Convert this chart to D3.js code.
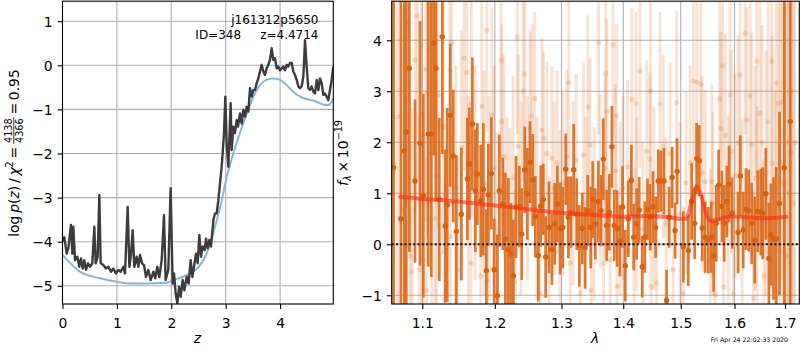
<!DOCTYPE html>
<html><head><meta charset="utf-8">
<script src="https://cdn.jsdelivr.net/npm/d3@7"></script>
<style>body{margin:0;background:#fff}svg{display:block}text{font-family:"DejaVu Sans",sans-serif;fill:#000}</style>
</head><body><svg id="c" width="800" height="350"></svg>
<script>
// ---------- Left panel: log p(z) ----------
const zPdf = [0.00,0.034,0.077,0.107,0.156,0.181,0.199,0.230,0.273,0.309,0.340,0.371,0.401,0.432,0.469,0.506,0.548,0.585,0.610,0.646,0.677,0.702,0.751,0.800,0.843,0.892,0.934,0.983,1.026,1.069,1.118,1.149,1.198,1.229,1.259,1.290,1.320,1.363,1.394,1.425,1.461,1.498,1.535,1.578,1.621,1.670,1.706,1.743,1.780,1.823,1.866,1.896,1.945,1.988,2.025,2.050,2.080,2.111,2.142,2.172,2.209,2.240,2.282,2.319,2.356,2.387,2.417,2.454,2.485,2.515,2.546,2.577,2.614,2.638,2.669,2.699,2.730,2.773,2.803,2.834,2.865,2.895,2.926,2.944,2.969,2.993,3.018,3.048,3.067,3.091,3.110,3.140,3.171,3.202,3.226,3.263,3.294,3.324,3.355,3.385,3.416,3.447,3.477,3.508,3.539,3.569,3.600,3.631,3.661,3.692,3.722,3.753,3.784,3.814,3.845,3.876,3.906,3.937,3.968,3.998,4.029,4.059,4.090,4.121,4.151,4.182,4.213,4.243,4.274,4.305,4.335,4.366,4.396,4.427,4.458,4.488,4.519,4.550,4.580,4.611,4.642,4.672,4.703,4.733,4.764,4.795,4.825,4.856,4.887,4.917,4.948,4.978];
const logPdf = [-4.00,-3.90,-4.27,-4.15,-3.62,-4.27,-3.66,-4.42,-4.34,-4.57,-4.38,-4.61,-4.42,-4.64,-4.49,-4.57,-4.49,-3.66,-4.49,-4.34,-2.94,-4.49,-4.53,-4.61,-4.57,-4.68,-4.61,-4.72,-4.64,-4.68,-4.57,-4.72,-3.21,-4.57,-4.30,-3.74,-4.57,-4.34,-4.57,-4.30,-4.49,-4.53,-4.80,-4.64,-4.87,-4.68,-4.83,-4.57,-4.80,-4.42,-3.40,-4.87,-4.64,-2.79,-4.95,-4.72,-5.17,-5.40,-5.02,-5.25,-4.87,-5.10,-4.80,-4.95,-4.42,-4.80,-4.57,-4.27,-4.49,-3.85,-4.34,-4.11,-4.19,-3.93,-4.15,-3.96,-4.11,-3.51,-3.36,-3.36,-3.06,-2.68,-2.30,-2.00,-1.54,-0.71,-1.77,-2.30,-1.69,-0.86,-1.92,-1.39,-1.54,-1.24,-1.39,-1.09,-1.32,-1.01,-1.16,-0.94,-1.05,-0.52,-0.71,-0.56,-0.56,-0.41,-0.30,-0.14,0.01,-0.14,-0.22,-0.07,0.01,0.12,0.39,0.12,0.16,-0.07,-0.03,-0.11,-0.07,-0.03,-0.11,0.01,-0.03,0.05,0.05,-0.14,-0.22,-0.33,-0.48,-0.52,-0.48,-0.26,0.57,-0.03,-0.52,-0.56,-0.48,-0.60,-0.64,-0.33,-0.56,-0.30,-0.41,-0.67,-0.64,-0.71,-0.79,-0.56,-0.33,-0.03];
const zPrior = [0.00,0.32,0.69,1.00,1.30,1.91,2.04,2.28,2.53,2.65,2.77,2.90,3.02,3.14,3.26,3.39,3.51,3.63,3.75,3.88,4.00,4.12,4.24,4.37,4.49,4.61,4.73,4.83,4.89,4.95,4.98];
const logPrior = [-4.30,-4.68,-4.83,-4.91,-4.95,-4.93,-4.87,-4.76,-4.53,-4.27,-3.81,-3.21,-2.53,-2.00,-1.54,-1.09,-0.71,-0.45,-0.33,-0.30,-0.33,-0.45,-0.60,-0.71,-0.77,-0.80,-0.86,-0.90,-0.90,-0.82,-0.75];
const zTicks = [0,1,2,3,4];
const logpTicks = [-5,-4,-3,-2,-1,0,1];

// ---------- Right panel: spectrum ----------
const specWave = [1.0627,1.0720,1.0765,1.0790,1.0830,1.0904,1.0970,1.1013,1.1079,1.1119,1.1151,1.1181,1.1226,1.1267,1.1307,1.1334,1.1375,1.1416,1.1458,1.1527,1.1611,1.1639,1.1681,1.1723,1.1751,1.1799,1.1836,1.1879,1.1907,1.1950,1.1990,1.2037,1.2066,1.2115,1.2153,1.2197,1.2236,1.2270,1.2309,1.2358,1.2394,1.2438,1.2478,1.2518,1.2559,1.2598,1.2643,1.2680,1.2719,1.2755,1.2806,1.2852,1.2894,1.2935,1.2977,1.3019,1.3066,1.3107,1.3149,1.3192,1.3240,1.3281,1.3329,1.3372,1.3415,1.3464,1.3496,1.3539,1.3588,1.3632,1.3669,1.3725,1.3767,1.3811,1.3849,1.3898,1.3943,1.3988,1.4035,1.4086,1.4136,1.4177,1.4227,1.4271,1.4322,1.4368,1.4414,1.4459,1.4509,1.4556,1.4601,1.4648,1.4700,1.4747,1.4793,1.4846,1.4899,1.4934,1.5047,1.5137,1.5198,1.5253,1.5289,1.5337,1.5391,1.5445,1.5505,1.5561,1.5605,1.5653,1.5698,1.5760,1.5803,1.5854,1.5897,1.5955,1.6070,1.6111,1.6169,1.6221,1.6274,1.6333,1.6393,1.6452,1.6512,1.6552,1.6613,1.6674,1.6714,1.6767,1.6822,1.6889,1.6985,1.7108];
const specFlux = [1.50,0.50,1.83,2.20,3.45,1.24,1.98,0.95,2.16,2.16,3.94,3.45,0.88,4.07,0.36,0.77,2.53,1.73,0.25,0.59,1.28,1.58,2.36,1.05,1.38,0.85,1.08,-0.52,0.97,1.39,-0.50,-1.01,1.05,0.79,0.10,-0.10,-0.19,-0.62,0.73,0.74,0.20,1.46,0.99,1.61,1.26,0.54,-0.22,0.75,0.88,-0.25,0.33,-0.10,0.40,0.79,0.31,0.33,1.47,0.53,0.63,1.46,0.59,-0.03,0.31,-0.07,0.66,0.33,0.88,0.40,0.84,0.66,1.67,0.37,0.63,1.91,0.37,0.31,0.07,0.73,-0.42,0.50,1.25,0.14,0.40,0.67,-0.44,0.14,0.69,0.53,0.73,0.33,1.24,1.24,1.24,-1.10,0.53,1.31,0.27,1.43,-0.05,-0.12,0.84,0.41,1.68,1.64,0.32,0.14,0.08,0.14,-0.23,0.41,1.16,0.74,0.41,0.84,1.18,0.61,0.23,1.34,0.28,0.69,0.66,0.41,0.08,0.65,0.63,0.61,0.99,-0.28,0.19,0.11,0.11,0.80,1.50,2.41];
const specErr = [6.0,5.0,3.5,4.0,3.6,1.6,2.4,2.0,2.6,2.8,2.2,2.6,1.6,2.3,1.5,1.9,1.4,1.3,1.5,1.3,1.2,1.1,1.3,1.2,1.0,1.1,1.3,1.2,1.0,1.1,1.0,1.2,1.1,0.9,1.3,1.4,1.0,1.1,1.0,0.8,0.9,0.85,0.9,0.8,0.9,0.8,0.9,0.8,0.7,0.8,0.9,0.7,0.8,0.75,0.9,0.8,0.7,0.8,0.7,0.9,0.7,0.8,0.7,0.8,0.7,0.8,0.75,0.7,0.8,0.7,0.8,0.7,0.75,0.8,0.7,0.75,0.7,0.8,0.7,0.75,0.7,0.65,0.7,0.65,0.6,0.7,0.6,0.65,0.7,0.6,0.62,0.6,0.65,0.6,0.6,0.6,0.55,0.65,0.7,0.7,0.75,0.7,0.7,0.7,0.65,0.7,0.65,0.7,0.7,0.75,0.7,0.7,0.75,0.7,0.75,0.7,0.8,0.8,0.75,0.8,0.8,0.8,0.85,0.8,0.85,0.9,0.9,1.1,1.0,1.2,1.4,1.8,6.0,6.0];

const fadedWave = [1.0620,1.0680,1.0750,1.0785,1.0815,1.0839,1.0860,1.0904,1.0934,1.0960,1.0992,1.1013,1.1049,1.1058,1.1066,1.1102,1.1124,1.1168,1.1190,1.1212,1.1279,1.1302,1.1368,1.1378,1.1396,1.1450,1.1480,1.1530,1.1566,1.1602,1.1624,1.1660,1.1666,1.1719,1.1799,1.1813,1.1845,1.1886,1.1890,1.1919,1.1958,1.1990,1.2032,1.2090,1.2100,1.2133,1.2177,1.2220,1.2265,1.2294,1.2328,1.2343,1.2382,1.2416,1.2441,1.2480,1.2518,1.2543,1.2588,1.2623,1.2668,1.2698,1.2723,1.2774,1.2809,1.2851,1.2886,1.2932,1.2977,1.3024,1.3084,1.3116,1.3136,1.3183,1.3230,1.3294,1.3347,1.3390,1.3418,1.3454,1.3470,1.3518,1.3590,1.3618,1.3673,1.3700,1.3708,1.3728,1.3783,1.3828,1.3866,1.3883,1.3894,1.3948,1.3997,1.4070,1.4144,1.4183,1.4217,1.4228,1.4284,1.4334,1.4400,1.4457,1.4466,1.4474,1.4526,1.4574,1.4632,1.4690,1.4738,1.4809,1.4862,1.4928,1.4988,1.5047,1.5096,1.5169,1.5228,1.5291,1.5365,1.5390,1.5446,1.5539,1.5571,1.5590,1.5633,1.5715,1.5742,1.5772,1.5791,1.5824,1.5880,1.5917,1.5937,1.5977,1.6010,1.6068,1.6108,1.6146,1.6204,1.6238,1.6302,1.6335,1.6367,1.6400,1.6433,1.6439,1.6498,1.6538,1.6578,1.6618,1.6658,1.6732,1.6738,1.6798,1.6818,1.6865,1.6900,1.6940,1.6980,1.7034,1.7060,1.7082,1.7110,1.7140,1.7170,1.7205];
const fadedFlux = [1.00,2.50,0.67,0.44,4.35,-0.24,-0.54,3.61,4.48,-0.50,2.14,-0.31,3.43,-0.90,2.96,3.82,1.80,0.51,1.33,2.93,2.31,-1.09,3.41,0.15,3.95,1.10,-0.50,1.90,3.65,3.37,0.60,-0.37,2.75,1.40,-0.62,2.71,1.20,4.20,-0.71,0.90,2.54,1.50,0.30,3.61,2.41,1.72,0.60,0.48,1.30,-0.73,4.06,1.92,0.90,3.01,3.34,1.10,2.27,2.52,2.86,0.70,-0.96,2.24,2.08,1.78,-0.37,1.69,1.10,1.60,0.55,1.20,1.72,3.17,-0.37,1.00,1.65,-0.95,1.75,0.80,2.69,1.95,-0.90,0.60,3.95,1.23,-0.37,1.49,3.35,2.61,-0.31,3.91,1.44,2.52,-0.83,0.70,1.10,1.52,2.84,-0.20,2.76,0.80,3.40,0.30,1.82,1.67,3.01,-0.83,0.90,-0.76,2.75,1.92,0.40,1.77,-0.50,2.78,0.60,-0.96,1.20,1.60,3.20,3.18,3.14,1.40,1.23,-0.31,1.23,0.80,-0.99,2.85,2.27,3.50,-0.83,2.14,0.62,2.93,1.82,-0.96,1.35,2.00,3.32,0.35,4.14,2.44,2.91,1.95,-1.06,1.30,3.59,0.50,2.57,2.00,-0.62,1.40,2.40,3.59,1.59,0.40,3.16,2.76,1.60,2.80,1.20,-0.23,2.00,1.00,1.80,3.00,0.80,2.00];
const fadedErr = [6.0,4.5,4.0,3.8,3.5,3.6,3.2,3.0,3.2,3.0,3.4,2.9,3.0,2.6,2.8,2.9,3.0,2.7,2.8,2.6,2.5,2.3,2.4,2.5,2.3,2.4,2.2,2.3,2.2,2.1,2.3,2.0,2.2,2.1,2.0,2.1,2.2,2.0,1.9,2.0,2.1,2.0,1.9,2.0,1.9,2.0,1.9,1.8,2.0,1.8,1.9,1.8,1.9,1.8,1.9,1.8,1.9,1.8,1.7,1.8,1.7,1.8,1.7,1.8,1.7,1.8,1.7,1.8,1.7,1.8,1.7,1.8,1.7,1.8,1.7,1.6,1.8,1.7,1.8,1.7,1.6,1.7,1.8,1.7,1.6,1.8,1.7,1.8,1.7,1.8,1.7,1.8,1.6,1.7,1.8,1.7,1.8,1.7,1.8,1.7,1.9,1.7,1.8,1.7,1.8,1.7,1.8,1.7,1.8,1.8,1.7,1.8,1.7,1.8,1.8,1.7,1.8,1.9,1.8,1.9,1.8,1.9,1.8,1.8,1.9,1.8,1.8,1.9,1.9,2.0,1.9,2.0,1.9,2.0,2.0,1.9,2.0,2.1,2.0,2.1,2.0,2.2,2.1,2.2,2.1,2.2,2.2,2.2,2.3,2.3,2.3,2.4,2.4,2.5,2.5,2.6,2.7,2.9,3.2,3.5,4.5,5.0,5.0,5.5,5.5,6.0,6.0,6.0];

const modelWave = [1.071,1.100,1.123,1.160,1.193,1.240,1.281,1.320,1.360,1.400,1.440,1.460,1.480,1.500,1.510,1.520,1.529,1.536,1.545,1.554,1.565,1.580,1.593,1.620,1.660,1.703];
const modelFlux = [0.93,0.89,0.87,0.82,0.77,0.70,0.64,0.60,0.57,0.54,0.555,0.55,0.53,0.50,0.50,0.85,1.14,1.00,0.65,0.46,0.47,0.52,0.55,0.53,0.51,0.54];
const waveTicks = [1.1,1.2,1.3,1.4,1.5,1.6,1.7];
const fluxTicks = [-1,0,1,2,3,4];

// ---------- drawing ----------
const svg = d3.select("#c");
const FS = 13.9;
const gridC = "#b0b0b0";
const orange = "#dc6c1f";

function panel(x, y, xt, yt, id) {
  const [x0, x1] = x.range(), [y0, y1] = y.range();
  svg.append("defs").append("clipPath").attr("id", id).append("rect")
    .attr("x", x0).attr("y", y1).attr("width", x1 - x0).attr("height", y0 - y1);
  const g = svg.append("g");
  g.selectAll("line.gx").data(xt).join("line")
    .attr("x1", d => x(d)).attr("x2", d => x(d)).attr("y1", y0).attr("y2", y1)
    .attr("stroke", gridC).attr("stroke-width", 1.1);
  g.selectAll("line.gy").data(yt).join("line")
    .attr("y1", d => y(d)).attr("y2", d => y(d)).attr("x1", x0).attr("x2", x1)
    .attr("stroke", gridC).attr("stroke-width", 1.1);
}
function frame(x, y, xt, yt, xfmt, yfmt) {
  const [x0, x1] = x.range(), [y0, y1] = y.range();
  const ax = svg.append("g").attr("transform", `translate(0,${y0})`)
    .call(d3.axisBottom(x).tickValues(xt).tickFormat(xfmt).tickSize(4.9).tickPadding(4.9));
  const ay = svg.append("g").attr("transform", `translate(${x0},0)`)
    .call(d3.axisLeft(y).tickValues(yt).tickFormat(yfmt).tickSize(4.9).tickPadding(4.9));
  [ax, ay].forEach(a => {
    a.select(".domain").remove();
    a.selectAll(".tick line").attr("stroke", "#000").attr("stroke-width", 1.1);
    a.selectAll(".tick text").attr("font-size", FS).attr("font-family", "DejaVu Sans").attr("fill", "#000");
  });
  ax.selectAll(".tick text").attr("dy", null).attr("y", 24);
  ay.selectAll(".tick text").attr("dy", "0.36em");
  svg.append("rect").attr("x", x0).attr("y", y1).attr("width", x1 - x0).attr("height", y0 - y1)
    .attr("fill", "none").attr("stroke", "#000").attr("stroke-width", 1.1);
}

// Left panel
const xL = d3.scaleLinear().domain([0, 4.978]).range([62.5, 333.3]);
const yL = d3.scaleLinear().domain([-5.413, 1.453]).range([304, 1.2]);
panel(xL, yL, zTicks, logpTicks, "clipL");
const gL = svg.append("g").attr("clip-path", "url(#clipL)");
gL.append("path").datum(d3.range(zPrior.length))
  .attr("d", d3.line().x(i => xL(zPrior[i])).y(i => yL(logPrior[i])).curve(d3.curveMonotoneX))
  .attr("fill", "none").attr("stroke", "#88b5db").attr("stroke-width", 2);
gL.append("path").datum(d3.range(zPdf.length))
  .attr("d", d3.line().x(i => xL(zPdf[i])).y(i => yL(logPdf[i])))
  .attr("fill", "none").attr("stroke", "#3c3c3c").attr("stroke-width", 2.4).attr("stroke-linejoin", "round");
frame(xL, yL, zTicks, logpTicks, d3.format("d"), d3.format("d"));

svg.append("text").attr("x", 318.5).attr("y", 24).attr("text-anchor", "end").attr("font-size", 12).text("j161312p5650");
svg.append("text").attr("x", 318.5).attr("y", 38.5).attr("text-anchor", "end").attr("font-size", 12)
  .style("white-space", "pre").text("ID=348     z=4.4714");

// Right panel
const xR = d3.scaleLog().domain([1.0603, 1.7294]).range([391.7, 799.3]);
const yR = d3.scaleLinear().domain([-1.171, 4.766]).range([304, 1.2]);
panel(xR, yR, waveTicks, fluxTicks, "clipR");
const gR = svg.append("g").attr("clip-path", "url(#clipR)");
const fi = d3.range(fadedWave.length);
gR.selectAll("line.fb").data(fi).join("line")
  .attr("x1", i => xR(fadedWave[i])).attr("x2", i => xR(fadedWave[i]))
  .attr("y1", i => yR(fadedFlux[i] - fadedErr[i])).attr("y2", i => yR(fadedFlux[i] + fadedErr[i]))
  .attr("stroke", orange).attr("stroke-opacity", 0.19).attr("stroke-width", 2.9);
gR.selectAll("circle.fd").data(fi).join("circle")
  .attr("cx", i => xR(fadedWave[i])).attr("cy", i => yR(fadedFlux[i])).attr("r", 2.6)
  .attr("fill", orange).attr("fill-opacity", 0.22);
const si = d3.range(specWave.length);
gR.selectAll("line.sb").data(si).join("line")
  .attr("x1", i => xR(specWave[i])).attr("x2", i => xR(specWave[i]))
  .attr("y1", i => yR(specFlux[i] - specErr[i])).attr("y2", i => yR(specFlux[i] + specErr[i]))
  .attr("stroke", orange).attr("stroke-opacity", 0.92).attr("stroke-width", 2.7);
gR.selectAll("circle.sd").data(si).join("circle")
  .attr("cx", i => xR(specWave[i])).attr("cy", i => yR(specFlux[i])).attr("r", 2.7)
  .attr("fill", "#d9620f");
gR.append("path").datum(d3.range(modelWave.length))
  .attr("d", d3.line().x(i => xR(modelWave[i])).y(i => yR(modelFlux[i])).curve(d3.curveMonotoneX))
  .attr("fill", "none").attr("stroke", "#ff2a14").attr("stroke-opacity", 0.6).attr("stroke-width", 4).attr("stroke-linecap", "round");
gR.append("line").attr("x1", 391.7).attr("x2", 799.3).attr("y1", yR(0)).attr("y2", yR(0))
  .attr("stroke", "#111").attr("stroke-width", 2).attr("stroke-dasharray", "2,2.3");
frame(xR, yR, waveTicks, fluxTicks, d3.format(".1f"), d3.format("d"));

// Axis labels
svg.append("text").attr("x", 197.5).attr("y", 342.5).attr("text-anchor", "middle").attr("font-size", FS).attr("font-style", "italic").text("z");
svg.append("text").attr("x", 595).attr("y", 342.5).attr("text-anchor", "middle").attr("font-size", FS).attr("font-style", "italic").text("λ");
svg.append("text").attr("x", 788).attr("y", 342).attr("text-anchor", "end").attr("font-size", 6.2).text("Fri Apr 24 22:02:33 2020");

// Left y label with fraction
(function () {
  const g = svg.append("g").attr("transform", "translate(18.5,153) rotate(-90)");
  const t1 = g.append("text").attr("font-size", FS);
  const parts = [["log\u2009", 0], ["p", 1], ["(", 0], ["z", 1], [")\u2009/\u2009", 0], ["χ", 1]];
  parts.forEach(p => t1.append("tspan").attr("font-style", p[1] ? "italic" : "normal").text(p[0]));
  t1.append("tspan").attr("font-size", 9.7).attr("dy", -5.5).text("2");
  t1.append("tspan").attr("dy", 5.5).text("\u2009=\u2009");
  const w1 = t1.node().getComputedTextLength();
  const num = g.append("text").attr("font-size", 9.7).attr("text-anchor", "middle").text("4138");
  const den = g.append("text").attr("font-size", 9.7).attr("text-anchor", "middle").text("4366");
  const wf = Math.max(num.node().getComputedTextLength(), den.node().getComputedTextLength()) + 2;
  const t3 = g.append("text").attr("font-size", FS).text("\u2009=\u20090.95");
  const w3 = t3.node().getComputedTextLength();
  const x0 = -(w1 + wf + w3) / 2;
  t1.attr("x", x0);
  num.attr("x", x0 + w1 + wf / 2).attr("y", -6.6);
  den.attr("x", x0 + w1 + wf / 2).attr("y", 4.2);
  g.append("line").attr("x1", x0 + w1).attr("x2", x0 + w1 + wf).attr("y1", -4.7).attr("y2", -4.7)
    .attr("stroke", "#000").attr("stroke-width", 0.8);
  t3.attr("x", x0 + w1 + wf);
})();

// Right y label
(function () {
  const g = svg.append("g").attr("transform", "translate(347.5,153) rotate(-90)");
  const t = g.append("text").attr("font-size", FS);
  t.append("tspan").attr("font-style", "italic").text("f");
  t.append("tspan").attr("font-style", "italic").attr("font-size", 9.7).attr("dy", 3).text("λ");
  t.append("tspan").attr("dy", -3).text("\u2009×\u200910");
  t.append("tspan").attr("font-size", 9.7).attr("dy", -5.5).text("−19");
  const w = t.node().getComputedTextLength();
  t.attr("x", -w / 2);
})();
</script></body></html>
